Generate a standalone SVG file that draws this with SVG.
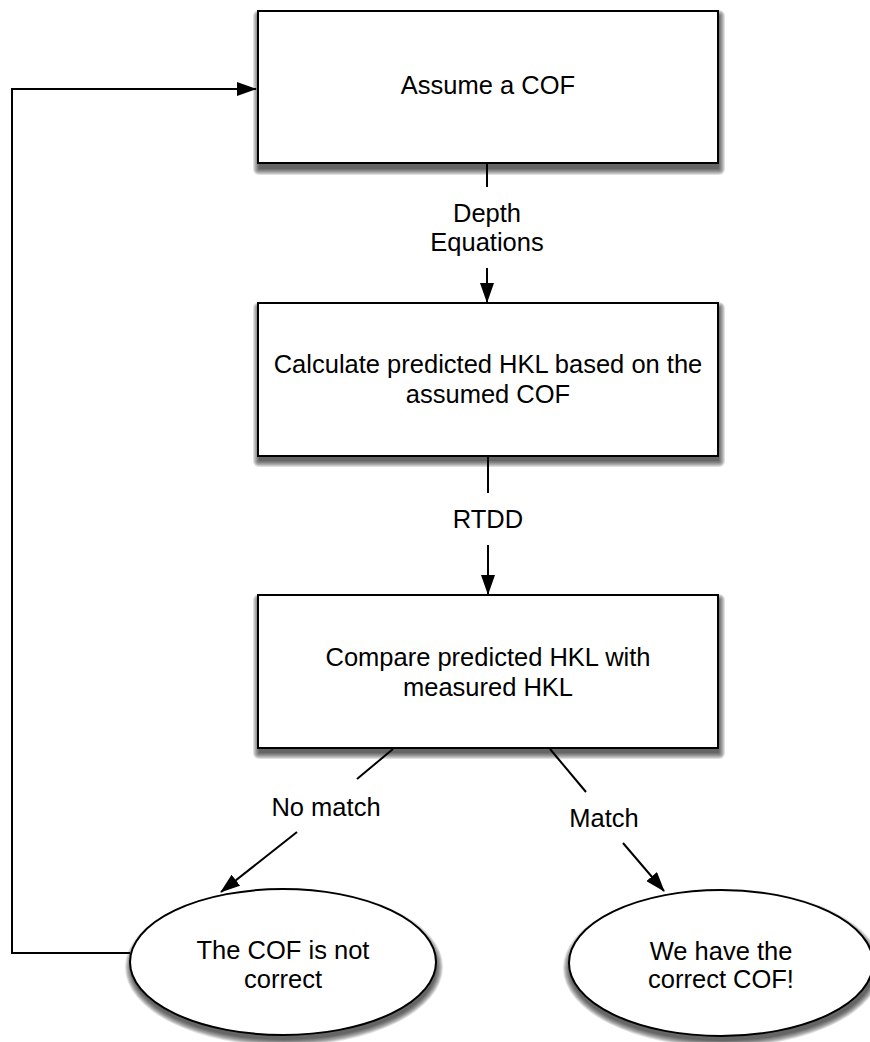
<svg xmlns="http://www.w3.org/2000/svg" width="870" height="1042" viewBox="0 0 870 1042">
<style>
.box{fill:#fff;stroke:#000;stroke-width:2}
.shd{fill:#000;fill-opacity:0.12}
.t{font-family:"Liberation Sans",Arial,sans-serif;font-size:25.5px;fill:#000;text-anchor:middle}
.c{fill:none;stroke:#000;stroke-width:2}
.ca{fill:none;stroke:#000;stroke-width:2;marker-end:url(#ah)}
</style>
<defs>
<marker id="ah" markerUnits="userSpaceOnUse" markerWidth="20" markerHeight="14" viewBox="0 0 20 14" refX="19" refY="7" orient="auto">
<path d="M0,0 L20,7 L0,14 Z" fill="#000" fill-opacity="1"/>
</marker>
<g id="rs">
<rect x="-6" y="-6" width="472" height="165" rx="6"/>
<rect x="-5" y="-5" width="470" height="163" rx="5"/>
<rect x="-4" y="-4" width="468" height="161" rx="4"/>
<rect x="-3" y="-3" width="466" height="159" rx="3"/>
<rect x="-2" y="-2" width="464" height="157" rx="2"/>
<rect x="-1" y="-1" width="462" height="155" rx="1"/>
<rect x="0" y="0" width="460" height="153"/>
</g>
<g id="es">
<ellipse rx="159" ry="79"/>
<ellipse rx="158" ry="78"/>
<ellipse rx="157" ry="77"/>
<ellipse rx="156" ry="76"/>
<ellipse rx="155" ry="75"/>
<ellipse rx="154" ry="74"/>
<ellipse rx="153" ry="73"/>
</g>
</defs>
<rect width="870" height="1042" fill="#fff"/>
<g id="connectors">
<path class="ca" d="M130,953 H12 V89 H256"/>
<path class="c" d="M487,163 V187"/>
<text class="t" x="487" y="222">Depth</text>
<text class="t" x="487" y="251">Equations</text>
<path class="ca" d="M487,268 V302"/>
<path class="c" d="M488,456 V493"/>
<text class="t" x="488" y="528">RTDD</text>
<path class="ca" d="M488,545 V594"/>
<path class="c" d="M393,749 L357,779"/>
<text class="t" x="326" y="816">No match</text>
<path class="ca" d="M297,832 L221,892"/>
<path class="c" d="M550,749 L586,792"/>
<text class="t" x="604" y="827">Match</text>
<path class="ca" d="M623,843 L664,891"/>
</g>
<g id="n1">
<use class="shd" href="#rs" x="259" y="16"/>
<rect class="box" x="258" y="11" width="460" height="152"/>
<text class="t" x="488" y="94">Assume a COF</text>
</g>
<g id="n2">
<use class="shd" href="#rs" x="259" y="308"/>
<rect class="box" x="258" y="303" width="460" height="153"/>
<text class="t" x="488" y="373">Calculate predicted HKL based on the</text>
<text class="t" x="488" y="403">assumed COF</text>
</g>
<g id="n3">
<use class="shd" href="#rs" x="259" y="600"/>
<rect class="box" x="258" y="595" width="460" height="153"/>
<text class="t" x="488" y="666">Compare predicted HKL with</text>
<text class="t" x="488" y="696">measured HKL</text>
</g>
<g id="n4">
<use class="shd" href="#es" x="284" y="967"/>
<ellipse class="box" cx="283" cy="962" rx="153" ry="73"/>
<text class="t" x="283" y="959">The COF is not</text>
<text class="t" x="283" y="988">correct</text>
</g>
<g id="n5">
<use class="shd" href="#es" x="722" y="968"/>
<ellipse class="box" cx="721" cy="963" rx="152" ry="73"/>
<text class="t" x="721" y="960">We have the</text>
<text class="t" x="721" y="988">correct COF!</text>
</g>
</svg>
